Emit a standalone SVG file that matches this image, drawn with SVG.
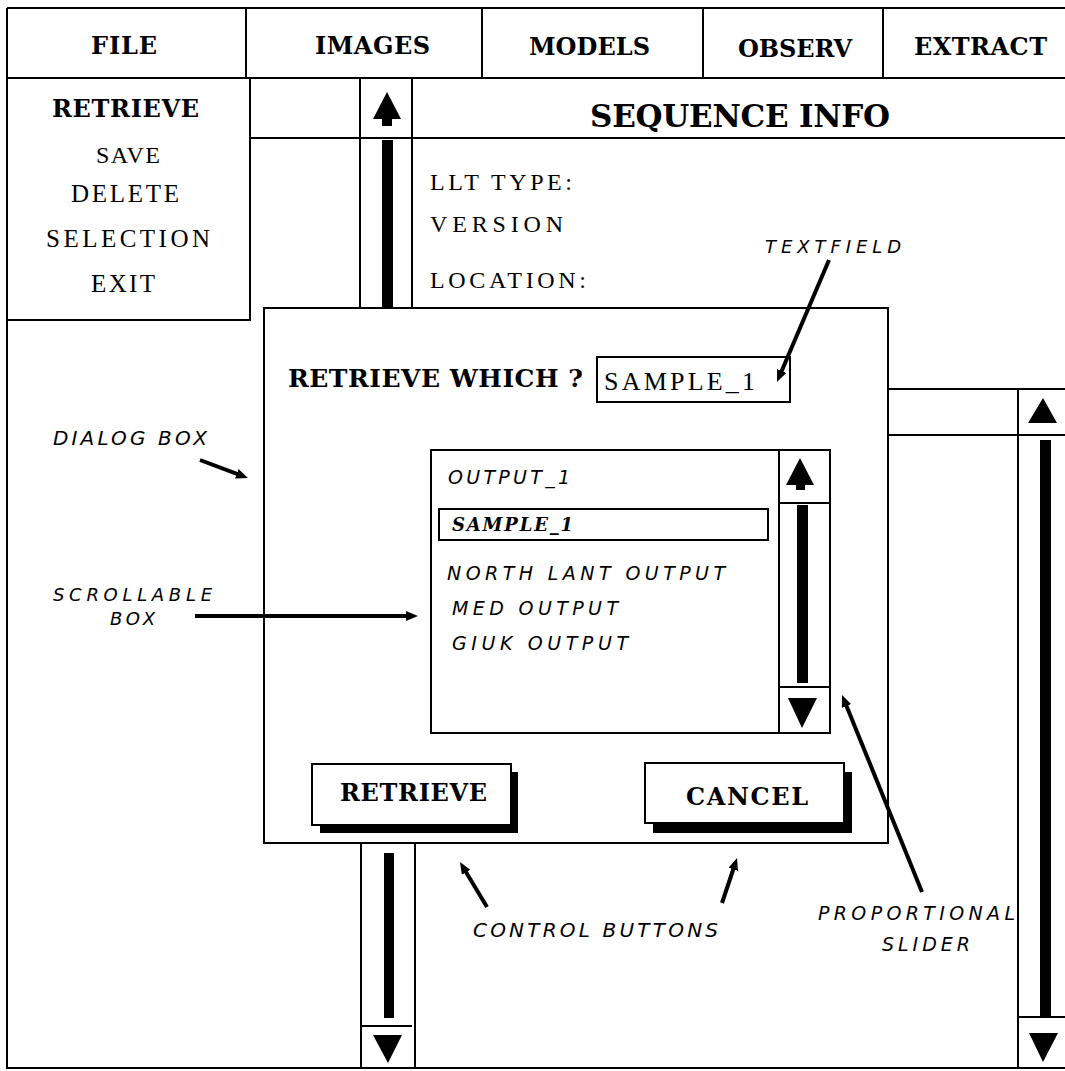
<svg xmlns="http://www.w3.org/2000/svg" width="1065" height="1071" viewBox="0 0 1065 1071">
<style>
.ln{stroke:#000;stroke-width:2;fill:none}
.box{stroke:#000;stroke-width:2;fill:#fff}
.blk{fill:#000}
.hd{font-family:"DejaVu Serif","Liberation Serif",serif;font-weight:bold;fill:#000}
.lt{font-family:"Liberation Serif","DejaVu Serif",serif;fill:#000}
.it{font-family:"DejaVu Sans","Liberation Sans",sans-serif;font-style:italic;fill:#000}
.bi{font-family:"DejaVu Serif","Liberation Serif",serif;font-weight:bold;font-style:italic;fill:#000}
.con{stroke:#000;stroke-width:4;fill:none;marker-end:url(#ah)}
</style>
<defs>
<marker id="ah" markerUnits="userSpaceOnUse" markerWidth="12" markerHeight="10" refX="3" refY="5" orient="auto">
<path d="M0,0 L12,5 L0,10 z" fill="#000"/>
</marker>
</defs>
<rect x="0" y="0" width="1065" height="1071" fill="#fff"/>

<g id="frame">
<path class="ln" d="M7,8 H1065 M7,8 V1068 H1065"/>
</g>

<g id="menubar">
<path class="ln" d="M7,78 H1065 M246,8 V78 M482,8 V78 M703,8 V78 M883,8 V78"/>
<text class="hd" x="91" y="54" font-size="24" textLength="66" lengthAdjust="spacing">FILE</text>
<text class="hd" x="315" y="54" font-size="24" textLength="115" lengthAdjust="spacing">IMAGES</text>
<text class="hd" x="529" y="55" font-size="24" textLength="121" lengthAdjust="spacing">MODELS</text>
<text class="hd" x="738" y="57" font-size="24" textLength="114" lengthAdjust="spacing">OBSERV</text>
<text class="hd" x="914" y="55" font-size="24" textLength="133" lengthAdjust="spacing">EXTRACT</text>
</g>

<g id="file-menu">
<rect class="box" x="7" y="78" width="243" height="242"/>
<text class="hd" x="52" y="117" font-size="24" textLength="147" lengthAdjust="spacing">RETRIEVE</text>
<text class="lt" x="96" y="163" font-size="24" textLength="64" lengthAdjust="spacing">SAVE</text>
<text class="lt" x="71" y="202" font-size="25" textLength="108" lengthAdjust="spacing">DELETE</text>
<text class="lt" x="46" y="247" font-size="25" textLength="164" lengthAdjust="spacing">SELECTION</text>
<text class="lt" x="91" y="292" font-size="25" textLength="64" lengthAdjust="spacing">EXIT</text>
</g>

<g id="sequence-info">
<path class="ln" d="M250,138 H1065"/>
<text class="hd" x="590" y="127" font-size="31" textLength="300" lengthAdjust="spacing">SEQUENCE INFO</text>
<text class="lt" x="430" y="190" font-size="24" textLength="142" lengthAdjust="spacing">LLT TYPE:</text>
<text class="lt" x="430" y="232" font-size="24" textLength="133" lengthAdjust="spacing">VERSION</text>
<text class="lt" x="430" y="288" font-size="24" textLength="156" lengthAdjust="spacing">LOCATION:</text>
</g>

<g id="upper-scrollbar">
<path class="ln" d="M360,78 V308 M412,78 V308"/>
<path class="blk" d="M387,92 L401,119 L392,119 L392,126 L382,126 L382,119 L373,119 z"/>
<rect class="blk" x="382" y="140" width="11" height="168"/>
</g>

<g id="right-scrollbar">
<path class="ln" d="M888,389 H1065 M888,435 H1065 M1018,389 V1068 M1018,1017 H1065"/>
<path class="blk" d="M1043,398 L1057,423 L1028,423 z"/>
<rect class="blk" x="1040" y="440" width="11" height="577"/>
<path class="blk" d="M1029,1033 L1058,1033 L1043,1062 z"/>
</g>

<g id="lower-scrollbar">
<path class="ln" d="M361,843 V1068 M415,843 V1068 M361,1026 H412"/>
<rect class="blk" x="384" y="853" width="10" height="165"/>
<path class="blk" d="M373,1035 L402,1035 L388,1063 z"/>
</g>

<g id="dialog-box">
<rect class="box" x="264" y="308" width="624" height="535"/>
<text class="hd" x="288" y="387" font-size="25" textLength="295" lengthAdjust="spacing">RETRIEVE WHICH ?</text>
</g>

<g id="textfield">
<rect class="box" x="597" y="357" width="193" height="45"/>
<text class="lt" x="604" y="390" font-size="26" textLength="151" lengthAdjust="spacing">SAMPLE_1</text>
</g>

<g id="scrollable-box">
<rect class="box" x="431" y="450" width="399" height="283"/>
<path class="ln" d="M779,450 V733 M779,503 H830 M779,687 H830"/>
<path class="blk" d="M800,458 L814,485 L805,485 L805,490 L796,490 L796,485 L786,485 z"/>
<rect class="blk" x="797" y="505" width="11" height="178"/>
<path class="blk" d="M788,698 L817,698 L802,728 z"/>
<text class="it" x="448" y="484" font-size="19" textLength="122" lengthAdjust="spacing">OUTPUT_1</text>
<rect class="box" x="439" y="509" width="329" height="31"/>
<text class="bi" x="452" y="531" font-size="18" textLength="121" lengthAdjust="spacing">SAMPLE_1</text>
<text class="it" x="447" y="580" font-size="19" textLength="278" lengthAdjust="spacing">NORTH LANT OUTPUT</text>
<text class="it" x="452" y="615" font-size="19" textLength="166" lengthAdjust="spacing">MED OUTPUT</text>
<text class="it" x="452" y="650" font-size="19" textLength="176" lengthAdjust="spacing">GIUK OUTPUT</text>
</g>

<g id="retrieve-button">
<rect class="blk" x="320" y="772" width="198" height="61"/>
<rect class="box" x="312" y="764" width="199" height="61"/>
<text class="hd" x="340" y="801" font-size="24" textLength="147" lengthAdjust="spacing">RETRIEVE</text>
</g>

<g id="cancel-button">
<rect class="blk" x="653" y="772" width="199" height="61"/>
<rect class="box" x="645" y="763" width="199" height="60"/>
<text class="hd" x="686" y="805" font-size="24" textLength="122" lengthAdjust="spacing">CANCEL</text>
</g>

<g id="labels">
<text class="it" x="765" y="253" font-size="18" textLength="136" lengthAdjust="spacing">TEXTFIELD</text>
<text class="it" x="53" y="445" font-size="20" textLength="154" lengthAdjust="spacing">DIALOG BOX</text>
<text class="it" x="53" y="601" font-size="18" textLength="159" lengthAdjust="spacing">SCROLLABLE</text>
<text class="it" x="110" y="625" font-size="18" textLength="45" lengthAdjust="spacing">BOX</text>
<text class="it" x="473" y="937" font-size="20" textLength="245" lengthAdjust="spacing">CONTROL BUTTONS</text>
<text class="it" x="818" y="920" font-size="19" textLength="197" lengthAdjust="spacing">PROPORTIONAL</text>
<text class="it" x="882" y="951" font-size="19" textLength="88" lengthAdjust="spacing">SLIDER</text>
</g>

<g id="connectors">
<line class="con" x1="829" y1="260" x2="780.5" y2="373.7"/>
<line class="con" x1="200" y1="460" x2="239.6" y2="474.8"/>
<line class="con" x1="195" y1="616" x2="409" y2="616"/>
<line class="con" x1="487" y1="907" x2="464.6" y2="869.7"/>
<line class="con" x1="722" y1="903" x2="734.2" y2="866.5"/>
<line class="con" x1="922" y1="892" x2="845.4" y2="703.3" stroke-width="3"/>
</g>
</svg>
